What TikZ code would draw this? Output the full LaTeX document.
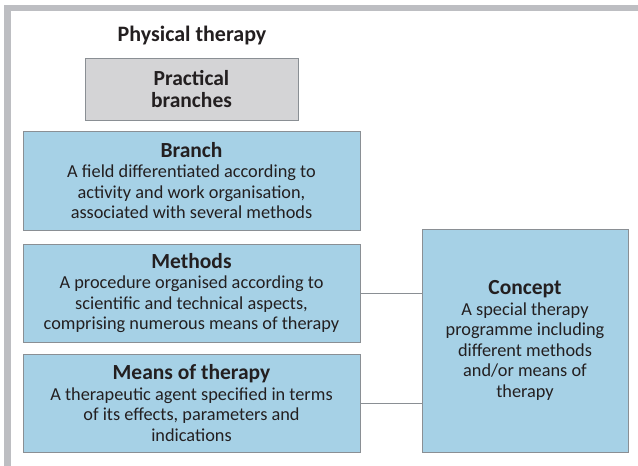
\documentclass[tikz,border=0pt]{standalone}
\usepackage{fontspec}
\setmainfont{Carlito}
\definecolor{framegray}{HTML}{BDBEC2}
\definecolor{boxblue}{HTML}{A6D1E6}
\definecolor{boxgray}{HTML}{D4D4D6}
\definecolor{edgegray}{HTML}{8A8F94}
\definecolor{textdark}{HTML}{231F20}
\tikzset{
  box/.style={draw=edgegray, line width=1pt, fill=boxblue, align=center, inner sep=0pt,
    text=textdark, font=\fontsize{18.3}{20.5}\selectfont},
  grbox/.style={box, fill=boxgray},
  conn/.style={draw=edgegray, line width=1pt},
}
\newcommand{\ttl}[1]{{\fontsize{21.5}{23}\selectfont\bfseries #1}}
\begin{document}
\begin{tikzpicture}[x=1pt,y=-1pt]
\useasboundingbox (0,0) rectangle (638,466);
\fill[white] (0,0) rectangle (638,466);
\fill[framegray] (4,5) rectangle (638,11);
\fill[framegray] (4,5) rectangle (11,466);
\node[text=textdark, font=\fontsize{22}{24}\selectfont\bfseries] (title) at (192,36) {Physical therapy};
\node[grbox, minimum width=213pt, minimum height=62pt] (prac) at (191.5,89)
  {\ttl{Practical}\\[1.5pt]\ttl{branches}};
\node[box, minimum width=337pt, minimum height=99pt] (branch) at (191.5,180.5)
  {\ttl{Branch}\\A field differentiated according to\\activity and work organisation,\\associated with several methods};
\node[box, minimum width=337pt, minimum height=98pt] (methods) at (191.5,293)
  {\ttl{Methods}\\A procedure organised according to\\scientific and technical aspects,\\comprising numerous means of therapy};
\node[box, minimum width=337pt, minimum height=98pt] (means) at (191.5,403)
  {\ttl{Means of therapy}\\A therapeutic agent specified in terms\\of its effects, parameters and\\indications};
\node[box, minimum width=206pt, minimum height=223pt] (concept) at (525,340.5)
  {\ttl{Concept}\\A special therapy\\programme including\\different methods\\and/or means of\\therapy};
\draw[conn] (methods.east) -- (methods.east -| concept.west);
\draw[conn] (means.east) -- (means.east -| concept.west);
\end{tikzpicture}
\end{document}
